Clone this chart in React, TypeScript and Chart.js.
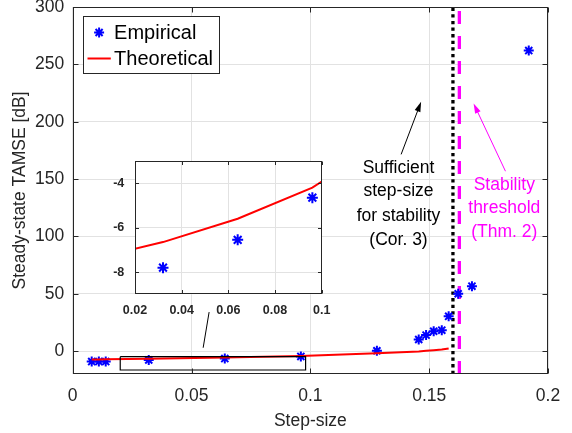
import { useEffect, useRef } from "react";
import { Chart, registerables } from "chart.js";

Chart.register(...registerables);

// ---------- data ----------
const empiricalStep = [0.008, 0.011, 0.0139, 0.032, 0.064, 0.096, 0.128, 0.1456, 0.1487, 0.1519, 0.1553, 0.1582, 0.1622, 0.168, 0.1919];
const empiricalTamse = [-9.2, -9.2, -9.2, -7.8, -6.55, -4.65, 0.3, 10.1, 13.9, 17.3, 18.2, 30.3, 50, 56.6, 262];
const theoryStep = [0.008, 0.011, 0.0139, 0.032, 0.064, 0.096, 0.128, 0.1456, 0.1487, 0.1519, 0.1553, 0.1582];
const theoryTamse = [-7.4, -7.25, -7.1, -6.65, -5.6, -4.2, -2.0, -0.3, 0.2, 0.7, 1.3, 2.3];
const sufficientStep = [0.16];
const stabilityThreshold = [0.1627];

const xTicks = [0, 0.05, 0.1, 0.15, 0.2];
const xTickLabels = ["0", "0.05", "0.1", "0.15", "0.2"];
const yTicks = [0, 50, 100, 150, 200, 250, 300];
const yTickLabels = ["0", "50", "100", "150", "200", "250", "300"];
const insetXTicks = [0.02, 0.04, 0.06, 0.08, 0.1];
const insetXTickLabels = ["0.02", "0.04", "0.06", "0.08", "0.1"];
const insetYTicks = [-8, -6, -4];
const insetYTickLabels = ["-8", "-6", "-4"];

// annotations (data units)
const zoomBoxX = [0.02, 0.098, 0.098, 0.02, 0.02];
const zoomBoxY = [-4.9, -4.9, -16.5, -16.5, -4.9];
const connectorX = [0.0549, 0.0574];
const connectorY = [2.9, 34];
const corLines = ["Sufficient", "step-size", "for stability", "(Cor. 3)"];
const corLineY = [159.6, 139.4, 117.8, 96.7];
const corTextX = 0.1371;
const corArrow = [0.1382, 171.5, 0.1466, 217.4];
const thmLines = ["Stability", "threshold", "(Thm. 2)"];
const thmLineY = [145, 124.4, 103.3];
const thmTextX = 0.1816;
const thmArrow = [0.1821, 156.8, 0.1687, 215.9];

// ---------- styles ----------
const FONT = "'Liberation Sans', Arial, Helvetica, sans-serif";
const AX = "#262626";
const GRID = "#e2e2e2";
const BLUE = "#0000ff";
const RED = "#ff0000";
const MAGENTA = "#ff00ff";

const pts = (xs: number[], ys: number[]) => xs.map((x, i) => ({ x, y: ys[i] }));

function framePlugin(tickLen: number, xt: number[], yt: number[]) {
  return {
    id: "frame",
    afterDatasetsDraw(chart: any) {
      const { ctx, chartArea, scales } = chart;
      const L = Math.round(chartArea.left) + 0.5;
      const R = Math.round(chartArea.right) - 0.5;
      const T = Math.round(chartArea.top) + 0.5;
      const B = Math.round(chartArea.bottom) - 0.5;
      ctx.save();
      ctx.strokeStyle = AX;
      ctx.lineWidth = 1;
      ctx.beginPath();
      xt.forEach((v) => {
        const p = Math.round(scales.x.getPixelForValue(v)) + 0.5;
        ctx.moveTo(p, B);
        ctx.lineTo(p, B - tickLen);
        ctx.moveTo(p, T);
        ctx.lineTo(p, T + tickLen);
      });
      yt.forEach((v) => {
        const p = Math.round(scales.y.getPixelForValue(v)) + 0.5;
        ctx.moveTo(L, p);
        ctx.lineTo(L + tickLen, p);
        ctx.moveTo(R, p);
        ctx.lineTo(R - tickLen, p);
      });
      ctx.stroke();
      ctx.strokeRect(L, T, R - L, B - T);
      ctx.restore();
    },
  };
}

function drawArrow(ctx: CanvasRenderingContext2D, x1: number, y1: number, x2: number, y2: number, color: string) {
  const ang = Math.atan2(y2 - y1, x2 - x1);
  const len = 10;
  const hw = 3;
  ctx.save();
  ctx.strokeStyle = color;
  ctx.fillStyle = color;
  ctx.lineWidth = 1;
  ctx.beginPath();
  ctx.moveTo(x1, y1);
  ctx.lineTo(x2 - Math.cos(ang) * len * 0.8, y2 - Math.sin(ang) * len * 0.8);
  ctx.stroke();
  const bx = x2 - Math.cos(ang) * len;
  const by = y2 - Math.sin(ang) * len;
  ctx.beginPath();
  ctx.moveTo(x2, y2);
  ctx.lineTo(bx + Math.sin(ang) * hw, by - Math.cos(ang) * hw);
  ctx.lineTo(bx - Math.sin(ang) * hw, by + Math.cos(ang) * hw);
  ctx.closePath();
  ctx.fill();
  ctx.restore();
}

const annotationPlugin = {
  id: "annotations",
  afterDatasetsDraw(chart: any) {
    const { ctx, scales } = chart;
    const px = (v: number) => scales.x.getPixelForValue(v);
    const py = (v: number) => scales.y.getPixelForValue(v);
    ctx.save();
    ctx.font = `17.5px ${FONT}`;
    ctx.textAlign = "center";
    ctx.textBaseline = "middle";
    ctx.fillStyle = "#000000";
    corLines.forEach((t, i) => ctx.fillText(t, px(corTextX), py(corLineY[i])));
    ctx.fillStyle = MAGENTA;
    thmLines.forEach((t, i) => ctx.fillText(t, px(thmTextX), py(thmLineY[i])));
    ctx.restore();
    drawArrow(ctx, px(corArrow[0]), py(corArrow[1]), px(corArrow[2]), py(corArrow[3]), "#000000");
    drawArrow(ctx, px(thmArrow[0]), py(thmArrow[1]), px(thmArrow[2]), py(thmArrow[3]), MAGENTA);
  },
};

const legendPlugin = {
  id: "customLegend",
  afterDraw(chart: any) {
    const { ctx, chartArea } = chart;
    const bx = Math.round(chartArea.left + 10) + 0.5;
    const by = Math.round(chartArea.top + 9.4) + 0.5;
    const bw = 136;
    const bh = 57;
    ctx.save();
    ctx.fillStyle = "#ffffff";
    ctx.fillRect(bx, by, bw, bh);
    ctx.strokeStyle = AX;
    ctx.lineWidth = 1;
    ctx.strokeRect(bx, by, bw, bh);
    // star
    const sx = bx + 15.6;
    const sy = by + 16;
    const r = 5;
    ctx.strokeStyle = BLUE;
    ctx.lineWidth = 2;
    ctx.beginPath();
    for (let k = 0; k < 4; k++) {
      const a = (k * Math.PI) / 4;
      ctx.moveTo(sx - Math.cos(a) * r, sy - Math.sin(a) * r);
      ctx.lineTo(sx + Math.cos(a) * r, sy + Math.sin(a) * r);
    }
    ctx.stroke();
    // line
    ctx.strokeStyle = RED;
    ctx.lineWidth = 2;
    ctx.beginPath();
    ctx.moveTo(bx + 4, by + 42);
    ctx.lineTo(bx + 27.3, by + 42);
    ctx.stroke();
    ctx.fillStyle = "#000000";
    ctx.font = `20px ${FONT}`;
    ctx.textAlign = "left";
    ctx.textBaseline = "middle";
    ctx.fillText("Empirical", bx + 30.6, sy + 1);
    ctx.fillText("Theoretical", bx + 30.6, by + 43);
    ctx.restore();
  },
};

const whiteAreaPlugin = {
  id: "whiteArea",
  beforeDraw(chart: any) {
    const { ctx, chartArea } = chart;
    ctx.save();
    ctx.fillStyle = "#ffffff";
    ctx.fillRect(chartArea.left, chartArea.top, chartArea.right - chartArea.left, chartArea.bottom - chartArea.top);
    ctx.restore();
  },
};

function scaleCommon(width: number | null, height: number | null) {
  return (s: any) => {
    if (width !== null) s.width = width;
    if (height !== null) s.height = height;
    s.paddingTop = 0;
    s.paddingBottom = 0;
    s.paddingLeft = 0;
    s.paddingRight = 0;
  };
}

function datasetsFor(markerRadius: number, withExtras: boolean) {
  const ds: any[] = [
    {
      label: "Empirical",
      data: pts(empiricalStep, empiricalTamse),
      showLine: false,
      pointStyle: "star",
      pointRadius: markerRadius,
      pointBorderColor: BLUE,
      pointBorderWidth: 2,
      borderColor: BLUE,
      backgroundColor: BLUE,
      order: 2,
    },
    {
      label: "Theoretical",
      data: pts(theoryStep, theoryTamse),
      showLine: true,
      pointRadius: 0,
      borderColor: RED,
      borderWidth: 2,
      order: 1,
    },
  ];
  if (withExtras) {
    ds.push(
      {
        label: "sufficient",
        data: pts([sufficientStep[0], sufficientStep[0]], [-20, 300]),
        showLine: true,
        pointRadius: 0,
        borderColor: "#000000",
        borderWidth: 3.3,
        borderDash: [3.3, 3.3],
        order: 3,
      },
      {
        label: "threshold",
        data: pts([stabilityThreshold[0], stabilityThreshold[0]], [-20, 300]),
        showLine: true,
        pointRadius: 0,
        borderColor: MAGENTA,
        borderWidth: 3.3,
        borderDash: [13, 12],
        order: 3,
      },
      {
        label: "zoombox",
        data: pts(zoomBoxX, zoomBoxY),
        showLine: true,
        pointRadius: 0,
        borderColor: "#000000",
        borderWidth: 1.2,
        order: 0,
      },
      {
        label: "connector",
        data: pts(connectorX, connectorY),
        showLine: true,
        pointRadius: 0,
        borderColor: "#000000",
        borderWidth: 1,
        order: 0,
      }
    );
  }
  return ds;
}

function mainConfig(): any {
  return {
    type: "scatter",
    data: { datasets: datasetsFor(5, true) },
    options: {
      animation: false,
      responsive: false,
      events: [],
      layout: { padding: { left: 0, top: 4.6, right: 24, bottom: 0 } },
      plugins: { legend: { display: false }, tooltip: { enabled: false } },
      scales: {
        x: {
          type: "linear",
          min: 0,
          max: 0.2,
          afterBuildTicks: (s: any) => {
            s.ticks = xTicks.map((v) => ({ value: v }));
          },
          afterFit: scaleCommon(null, 59),
          grid: { color: GRID, drawTicks: false, lineWidth: 1 },
          border: { display: false },
          ticks: {
            padding: 12,
            color: AX,
            maxRotation: 0,
            autoSkip: false,
            font: { family: FONT, size: 17.5 },
            callback: (_v: any, i: number) => xTickLabels[i],
          },
          title: {
            display: true,
            text: "Step-size",
            color: AX,
            font: { family: FONT, size: 17.5 },
            padding: { top: 0, bottom: 1 },
          },
        },
        y: {
          type: "linear",
          min: -20,
          max: 300,
          afterBuildTicks: (s: any) => {
            s.ticks = yTicks.map((v) => ({ value: v }));
          },
          afterFit: scaleCommon(72.7, null),
          grid: { color: GRID, drawTicks: false, lineWidth: 1 },
          border: { display: false },
          ticks: {
            padding: 8.5,
            color: AX,
            autoSkip: false,
            font: { family: FONT, size: 17.5 },
            callback: (_v: any, i: number) => yTickLabels[i],
          },
          title: {
            display: true,
            text: "Steady-state TAMSE [dB]",
            color: AX,
            font: { family: FONT, size: 17.5 },
            padding: { top: 10, bottom: 0 },
          },
        },
      },
    },
    plugins: [framePlugin(5, xTicks, yTicks), annotationPlugin, legendPlugin],
  };
}

function insetConfig(): any {
  return {
    type: "scatter",
    data: { datasets: datasetsFor(5.5, false) },
    options: {
      animation: false,
      responsive: false,
      events: [],
      layout: { padding: { left: 0, top: 11, right: 18.3, bottom: 0 } },
      plugins: { legend: { display: false }, tooltip: { enabled: false } },
      scales: {
        x: {
          type: "linear",
          min: 0.02,
          max: 0.1,
          afterBuildTicks: (s: any) => {
            s.ticks = insetXTicks.map((v) => ({ value: v }));
          },
          afterFit: scaleCommon(null, 35.7),
          grid: { color: GRID, drawTicks: false, lineWidth: 1 },
          border: { display: false },
          ticks: {
            padding: 8.8,
            color: AX,
            maxRotation: 0,
            autoSkip: false,
            font: { family: FONT, size: 12.5, weight: "bold" },
            callback: (_v: any, i: number) => insetXTickLabels[i],
          },
        },
        y: {
          type: "linear",
          min: -9,
          max: -3,
          afterBuildTicks: (s: any) => {
            s.ticks = insetYTicks.map((v) => ({ value: v }));
          },
          afterFit: scaleCommon(35, null),
          grid: { color: GRID, drawTicks: false, lineWidth: 1 },
          border: { display: false },
          ticks: {
            padding: 10.7,
            color: AX,
            autoSkip: false,
            font: { family: FONT, size: 12.5, weight: "bold" },
            callback: (_v: any, i: number) => insetYTickLabels[i],
          },
        },
      },
    },
    plugins: [whiteAreaPlugin, framePlugin(3.5, insetXTicks, insetYTicks)],
  };
}

export default function App() {
  const mainRef = useRef<HTMLCanvasElement>(null);
  const insetRef = useRef<HTMLCanvasElement>(null);
  useEffect(() => {
    document.body.style.margin = "0";
    const main = new Chart(mainRef.current as HTMLCanvasElement, mainConfig());
    const inset = new Chart(insetRef.current as HTMLCanvasElement, insetConfig());
    return () => {
      main.destroy();
      inset.destroy();
    };
  }, []);
  return (
    <div style={{ position: "relative", width: 572, height: 433, background: "#ffffff" }}>
      <canvas
        ref={mainRef}
        width={572}
        height={433}
        style={{ position: "absolute", left: 0, top: 0, width: 572, height: 433 }}
      />
      <canvas
        ref={insetRef}
        width={240}
        height={180}
        style={{ position: "absolute", left: 100, top: 150, width: 240, height: 180 }}
      />
    </div>
  );
}
